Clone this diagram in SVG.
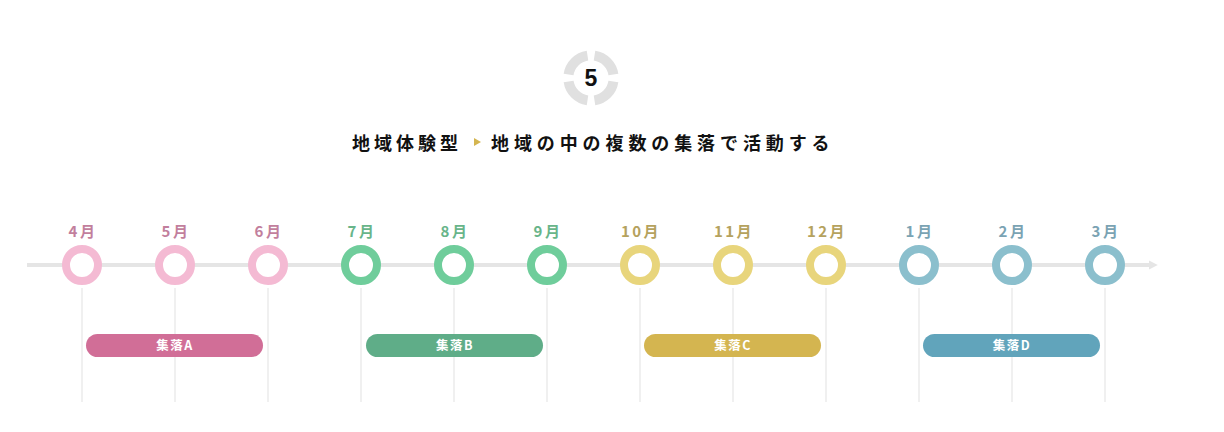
<svg xmlns="http://www.w3.org/2000/svg" width="1224" height="432" viewBox="0 0 1224 432">
<style>
.t{font-family:"Noto Sans CJK JP","Noto Sans",sans-serif;font-weight:700}
.m{font-size:15px;text-anchor:middle;letter-spacing:2.5px}
.p{font-size:12.5px;fill:#fff;text-anchor:middle;letter-spacing:1.5px}
.ring{fill:#fff;stroke-width:8}
.v{stroke:#f0f0f0;stroke-width:2}
</style>
<defs>
<marker id="ah" viewBox="0 0 10 10" refX="0" refY="5" markerWidth="2.2" markerHeight="2.6" orient="auto" markerUnits="strokeWidth"><path d="M0,0 L10,5 L0,10 Z" fill="#e5e5e5"/></marker>
</defs>
<rect width="1224" height="432" fill="#fff"/>
<g id="header">
<g fill="none" stroke="#e0e0e0" stroke-width="10">
<path d="M594.5,55.6 A22.5,22.5 0 0 1 613.4,74.5"/>
<path d="M613.4,81.5 A22.5,22.5 0 0 1 594.5,100.4"/>
<path d="M587.5,100.4 A22.5,22.5 0 0 1 568.6,81.5"/>
<path d="M568.6,74.5 A22.5,22.5 0 0 1 587.5,55.6"/>
</g>
<text x="591" y="86" font-size="23" text-anchor="middle" fill="#111" style="font-family:'Liberation Sans',Arial,sans-serif;font-weight:700">5</text>
<text x="352" y="150" class="t" font-size="18" letter-spacing="4" fill="#111">地域体験型</text>
<path d="M474,138 L481,142 L474,146 Z" fill="#d4b550"/>
<text x="491" y="150" class="t" font-size="18" letter-spacing="4.9" fill="#111">地域の中の複数の集落で活動する</text>
</g>
<g id="connectors">
<line x1="27" y1="265" x2="1149" y2="265" stroke="#e5e5e5" stroke-width="4" marker-end="url(#ah)"/>
<line class="v" x1="82" y1="288" x2="82" y2="402"/>
<line class="v" x1="175" y1="288" x2="175" y2="402"/>
<line class="v" x1="268" y1="288" x2="268" y2="402"/>
<line class="v" x1="361" y1="288" x2="361" y2="402"/>
<line class="v" x1="454" y1="288" x2="454" y2="402"/>
<line class="v" x1="547" y1="288" x2="547" y2="402"/>
<line class="v" x1="640" y1="288" x2="640" y2="402"/>
<line class="v" x1="733" y1="288" x2="733" y2="402"/>
<line class="v" x1="826" y1="288" x2="826" y2="402"/>
<line class="v" x1="919" y1="288" x2="919" y2="402"/>
<line class="v" x1="1012" y1="288" x2="1012" y2="402"/>
<line class="v" x1="1105" y1="288" x2="1105" y2="402"/>
</g>
<g id="m4"><text x="83" y="237" class="t m" fill="#c27f9d">4月</text><circle cx="82" cy="265" r="16" class="ring" stroke="#f4bad3"/></g>
<g id="m5"><text x="176" y="237" class="t m" fill="#c27f9d">5月</text><circle cx="175" cy="265" r="16" class="ring" stroke="#f4bad3"/></g>
<g id="m6"><text x="269" y="237" class="t m" fill="#c27f9d">6月</text><circle cx="268" cy="265" r="16" class="ring" stroke="#f4bad3"/></g>
<g id="m7"><text x="362" y="237" class="t m" fill="#68b58a">7月</text><circle cx="361" cy="265" r="16" class="ring" stroke="#6fcd9b"/></g>
<g id="m8"><text x="455" y="237" class="t m" fill="#68b58a">8月</text><circle cx="454" cy="265" r="16" class="ring" stroke="#6fcd9b"/></g>
<g id="m9"><text x="548" y="237" class="t m" fill="#68b58a">9月</text><circle cx="547" cy="265" r="16" class="ring" stroke="#6fcd9b"/></g>
<g id="m10"><text x="641" y="237" class="t m" fill="#b5a25e">10月</text><circle cx="640" cy="265" r="16" class="ring" stroke="#e8d57c"/></g>
<g id="m11"><text x="734" y="237" class="t m" fill="#b5a25e">11月</text><circle cx="733" cy="265" r="16" class="ring" stroke="#e8d57c"/></g>
<g id="m12"><text x="827" y="237" class="t m" fill="#b5a25e">12月</text><circle cx="826" cy="265" r="16" class="ring" stroke="#e8d57c"/></g>
<g id="m1"><text x="920" y="237" class="t m" fill="#7aa3b3">1月</text><circle cx="919" cy="265" r="16" class="ring" stroke="#8bbfcd"/></g>
<g id="m2"><text x="1013" y="237" class="t m" fill="#7aa3b3">2月</text><circle cx="1012" cy="265" r="16" class="ring" stroke="#8bbfcd"/></g>
<g id="m3"><text x="1106" y="237" class="t m" fill="#7aa3b3">3月</text><circle cx="1105" cy="265" r="16" class="ring" stroke="#8bbfcd"/></g>
<g id="groupA"><rect x="86" y="334" width="177" height="23" rx="11.5" fill="#d16e97"/><text x="175" y="350" class="t p">集落A</text></g>
<g id="groupB"><rect x="366" y="334" width="177" height="23" rx="11.5" fill="#5fad88"/><text x="455" y="350" class="t p">集落B</text></g>
<g id="groupC"><rect x="644" y="334" width="177" height="23" rx="11.5" fill="#d4b550"/><text x="733" y="350" class="t p">集落C</text></g>
<g id="groupD"><rect x="923" y="334" width="177" height="23" rx="11.5" fill="#61a4bb"/><text x="1012" y="350" class="t p">集落D</text></g>
</svg>
